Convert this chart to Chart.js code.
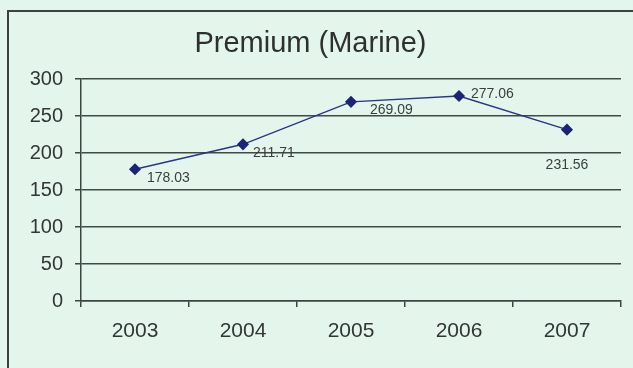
<!DOCTYPE html>
<html>
<head>
<meta charset="utf-8">
<script src="https://cdn.jsdelivr.net/npm/chart.js@4/dist/chart.umd.min.js"></script>
<style>
    html, body { margin:0; padding:0; background:#e4f6ec; overflow:hidden; }
    canvas { display:block; }
</style>
</head>
<body>
<canvas id="graficaMarine" width="633" height="368"></canvas>
<script>
var anios = ['2003', '2004', '2005', '2006', '2007'];
var primas = [178.03, 211.71, 269.09, 277.06, 231.56];
var ticksY = [0, 50, 100, 150, 200, 250, 300];

// offsets of each value label from its point
var etiquetaDx = [12, 10, 19, 12, 0];
var etiquetaDy = [9, 9, 8, -2, 35];
var etiquetaAlign = ['left', 'left', 'left', 'left', 'center'];

// outer frame: left and top edges only
var marco = {
    id: 'marco',
    beforeDraw: function (chart) {
        var ctx = chart.ctx;
        ctx.save();
        ctx.strokeStyle = '#3c403e';
        ctx.lineWidth = 2;
        ctx.beginPath();
        ctx.moveTo(8, 368);
        ctx.lineTo(8, 11);
        ctx.lineTo(633, 11);
        ctx.stroke();
        ctx.restore();
    }
};

var etiquetasValor = {
    id: 'etiquetasValor',
    afterDatasetsDraw: function (chart) {
        var ctx = chart.ctx;
        var meta = chart.getDatasetMeta(0);
        ctx.save();
        ctx.font = '14px "Liberation Sans", Arial, sans-serif';
        ctx.fillStyle = '#3a3f3c';
        ctx.textBaseline = 'middle';
        meta.data.forEach(function (p, i) {
            ctx.textAlign = etiquetaAlign[i];
            ctx.fillText(primas[i].toFixed(2), p.x + etiquetaDx[i], p.y + etiquetaDy[i]);
        });
        ctx.restore();
    }
};

var datos = {
    type: 'line',
    data: {
        labels: anios,
        datasets: [{
            data: primas,
            borderColor: '#2b3585',
            borderWidth: 1.5,
            pointStyle: 'rectRot',
            pointRadius: 5,
            pointBackgroundColor: '#1c2478',
            pointBorderColor: '#1c2478',
            tension: 0
        }]
    },
    options: {
        responsive: false,
        animation: false,
        layout: { padding: { left: 0, right: 12, top: 0, bottom: 0 } },
        plugins: {
            legend: { display: false },
            tooltip: { enabled: false },
            title: {
                display: true,
                text: 'Premium (Marine)',
                color: '#2e302f',
                font: { family: '"Liberation Sans", Arial, sans-serif', size: 29, weight: 'normal', lineHeight: 1.2 },
                padding: { top: 27, bottom: 17.2 }
            }
        },
        scales: {
            x: {
                offset: true,
                afterFit: function (s) { s.height = 67; },
                grid: {
                    offset: true,
                    drawOnChartArea: false,
                    drawTicks: true,
                    tickLength: 6,
                    tickColor: '#3c4540',
                    lineWidth: 1.5
                },
                border: { color: '#3c4540', width: 1.5 },
                ticks: {
                    color: '#333634',
                    padding: 12,
                    font: { family: '"Liberation Sans", Arial, sans-serif', size: 21 }
                }
            },
            y: {
                min: 0,
                max: 300,
                afterFit: function (s) { s.width = 81; },
                afterBuildTicks: function (s) {
                    s.ticks = ticksY.map(function (v) { return { value: v }; });
                },
                grid: {
                    color: '#3f4a45',
                    lineWidth: 1.5,
                    tickLength: 6,
                    tickColor: '#3c4540'
                },
                border: { color: '#3c4540', width: 1.5 },
                ticks: {
                    color: '#333634',
                    padding: 12,
                    font: { family: '"Liberation Sans", Arial, sans-serif', size: 20 }
                }
            }
        }
    },
    plugins: [marco, etiquetasValor]
};

var canvas = document.getElementById('graficaMarine').getContext('2d');
var chart = new Chart(canvas, datos);
</script>
</body>
</html>
